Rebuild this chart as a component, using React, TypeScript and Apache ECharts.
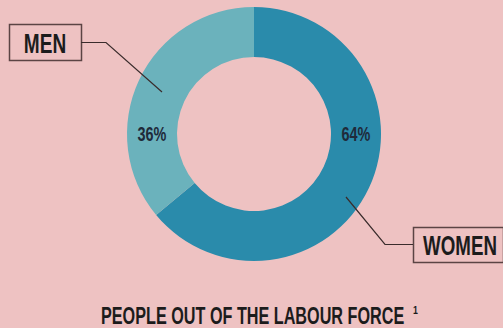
import React, { useEffect, useRef } from "react";
import * as echarts from "echarts";

const categories = ["WOMEN", "MEN"];
const values = [64, 36];
const colors = ["#2A8BAB", "#6BB2BC"];
const title = "PEOPLE OUT OF THE LABOUR FORCE";
const footnote = "1";

const BG = "#EEC2C2";
const INK = "#1c1c1c";
const FONT = "'Liberation Sans', Arial, sans-serif";

export default function App() {
  const ref = useRef<HTMLDivElement>(null);
  useEffect(() => {
    const chart = echarts.init(ref.current!, null, { renderer: "svg" });
    const total = values.reduce((a, b) => a + b, 0);
    const pct = values.map((v) => Math.round((v / total) * 100) + "%");
    const cx = 254;
    const cy = 134;
    const textEl = (text: string, x: number, y: number, size: number, sx: number, align: string, fill = INK) => ({
      type: "text",
      x,
      y,
      scaleX: sx,
      z: 100,
      style: {
        text,
        font: `bold ${size}px ${FONT}`,
        fill,
        textAlign: align,
        textVerticalAlign: "middle",
      },
    });
    chart.setOption({
      animation: false,
      backgroundColor: BG,
      series: [
        {
          type: "pie",
          center: [cx, cy],
          radius: [77, 127],
          startAngle: 90,
          clockwise: true,
          label: { show: false },
          labelLine: { show: false },
          emphasis: { disabled: true },
          itemStyle: { borderWidth: 0 },
          data: categories.map((c, i) => ({ name: c, value: values[i], itemStyle: { color: colors[i] } })),
        },
      ],
      graphic: [
        {
          type: "rect",
          z: 100,
          shape: { x: 9.5, y: 24.5, width: 72, height: 36 },
          style: { fill: BG, stroke: "#5b4444", lineWidth: 1.5 },
        },
        {
          type: "polyline",
          z: 100,
          shape: { points: [[81, 42.5], [106, 42.5], [162, 92]] },
          style: { stroke: "#3a2c2c", lineWidth: 1.2, fill: null },
        },
        textEl(categories[1], 45, 43, 28, 0.68, "center"),
        {
          type: "rect",
          z: 100,
          shape: { x: 413.5, y: 227.5, width: 90, height: 35 },
          style: { fill: BG, stroke: "#5b4444", lineWidth: 1.5 },
        },
        {
          type: "polyline",
          z: 100,
          shape: { points: [[413, 244.5], [385, 244.5], [346, 197]] },
          style: { stroke: "#3a2c2c", lineWidth: 1.2, fill: null },
        },
        textEl(categories[0], 460, 245, 28, 0.67, "center"),
        textEl(pct[1], 152, 134.5, 19.5, 0.74, "center", "#1f2a3a"),
        textEl(pct[0], 356, 134.5, 19.5, 0.74, "center", "#1f2a3a"),
        textEl(title, 101, 316, 23, 0.705, "left"),
        textEl(footnote, 413, 310, 11, 0.8, "left"),
      ],
    });
    return () => chart.dispose();
  }, []);
  return <div ref={ref} style={{ position: "fixed", left: 0, top: 0, width: 503, height: 328 }} />;
}
